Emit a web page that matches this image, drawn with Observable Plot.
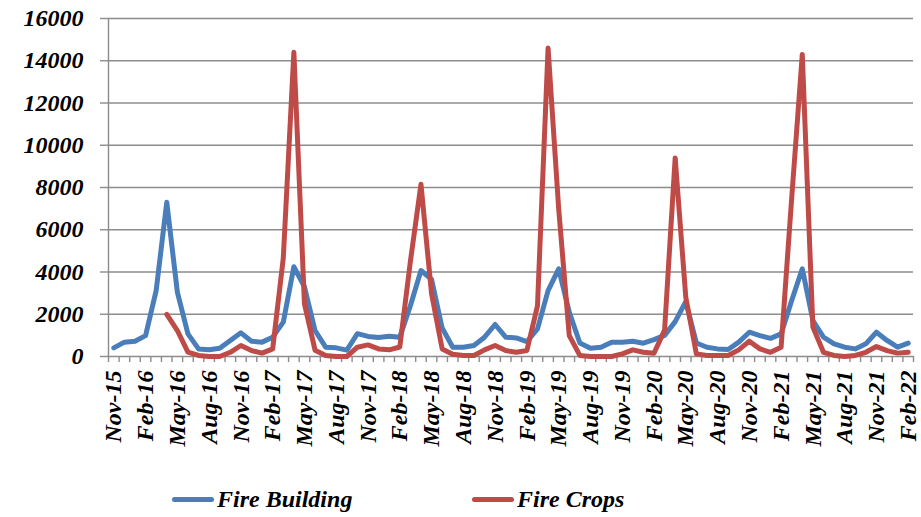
<!DOCTYPE html>
<html><head><meta charset="utf-8">
<script src="https://cdn.jsdelivr.net/npm/d3@7"></script>
<script src="https://cdn.jsdelivr.net/npm/@observablehq/plot@0.6"></script>
</head><body style="margin:0;background:#fff">
<div id="wrap" style="width:921px"></div>
<script>
const months = ["Nov-15","Dec-15",
"Jan-16","Feb-16","Mar-16","Apr-16","May-16","Jun-16","Jul-16","Aug-16","Sep-16","Oct-16","Nov-16","Dec-16",
"Jan-17","Feb-17","Mar-17","Apr-17","May-17","Jun-17","Jul-17","Aug-17","Sep-17","Oct-17","Nov-17","Dec-17",
"Jan-18","Feb-18","Mar-18","Apr-18","May-18","Jun-18","Jul-18","Aug-18","Sep-18","Oct-18","Nov-18","Dec-18",
"Jan-19","Feb-19","Mar-19","Apr-19","May-19","Jun-19","Jul-19","Aug-19","Sep-19","Oct-19","Nov-19","Dec-19",
"Jan-20","Feb-20","Mar-20","Apr-20","May-20","Jun-20","Jul-20","Aug-20","Sep-20","Oct-20","Nov-20","Dec-20",
"Jan-21","Feb-21","Mar-21","Apr-21","May-21","Jun-21","Jul-21","Aug-21","Sep-21","Oct-21","Nov-21","Dec-21",
"Jan-22","Feb-22"];
const tickLabels = ["Nov-15","Feb-16","May-16","Aug-16","Nov-16","Feb-17","May-17","Aug-17","Nov-17","Feb-18","May-18","Aug-18","Nov-18","Feb-19","May-19","Aug-19","Nov-19","Feb-20","May-20","Aug-20","Nov-20","Feb-21","May-21","Aug-21","Nov-21","Feb-22"];
const yTicks = [0,2000,4000,6000,8000,10000,12000,14000,16000];
const fireBuilding = [410,680,725,990,3120,7300,3050,1070,360,315,390,760,1120,725,680,915,1625,4250,3300,1230,440,410,300,1080,950,900,960,915,2400,4070,3650,1350,440,440,520,915,1515,915,880,700,1310,3120,4150,2100,640,390,440,680,680,725,630,800,1000,1650,2600,640,440,360,330,680,1150,990,860,1070,2650,4150,1700,915,600,440,360,600,1150,760,440,630];
const fireCrops = [null,null,null,null,null,1990,1230,205,50,0,0,200,520,280,160,360,4650,14400,2490,300,50,0,0,440,550,360,315,450,4500,8150,2970,360,110,50,50,315,520,280,200,285,2400,14600,7000,990,50,0,0,0,125,315,200,150,1250,9400,2810,125,50,50,50,315,725,360,200,440,7500,14300,1390,200,50,0,50,200,470,280,160,200];
const seriesNames = ["Fire Building","Fire Crops"];
const colors = ["#4a7ebb","#be4b48"];
const FONT = "'Liberation Serif', 'Times New Roman', serif";

const gridColor = "#8c8c8c";
const chart = Plot.plot({
  width: 921,
  height: 460,
  marginLeft: 108,
  marginRight: 8,
  marginTop: 18,
  marginBottom: 104,
  style: {fontSize: "24px", fontWeight: "bold", fontStyle: "italic", color: "#000", background: "#fff"},
  x: {type: "linear", domain: [-0.5, months.length - 0.5]},
  y: {domain: [0, 16000]},
  marks: [
    Plot.gridY(yTicks, {stroke: gridColor, strokeOpacity: 1, strokeWidth: 1.4}),
    Plot.axisY(yTicks, {tickSize: 8, stroke: gridColor, strokeWidth: 1.4, tickPadding: 17, tickFormat: d3.format("d"), label: null}),
    Plot.ruleX([-0.5], {stroke: gridColor, strokeWidth: 1.4}),
    Plot.axisX(d3.range(-0.5, months.length, 1), {tickSize: 6, stroke: gridColor, strokeWidth: 1.4, tickFormat: () => "", label: null}),
    Plot.axisX(tickLabels.map(l => months.indexOf(l)), {tickSize: 0, tickPadding: 14, tickRotate: -90, tickFormat: i => months[i], label: null}),
    Plot.lineY(fireBuilding, {x: (d, i) => i, y: d => d, stroke: colors[0], strokeWidth: 5, strokeLinejoin: "round", strokeLinecap: "round"}),
    Plot.lineY(fireCrops, {x: (d, i) => i, y: d => d, defined: d => d != null, stroke: colors[1], strokeWidth: 5, strokeLinejoin: "round", strokeLinecap: "round"})
  ]
});
const wrap = document.getElementById("wrap");
wrap.appendChild(chart);
const legend = document.createElement("div");
legend.style.cssText = "position:relative;width:921px;height:57px;font-weight:bold;font-style:italic;font-size:24px;color:#000";
const lefts = [172, 472];
seriesNames.forEach((n, k) => {
  const it = document.createElement("div");
  it.style.cssText = "position:absolute;top:26px;display:flex;align-items:center;left:" + lefts[k] + "px";
  const sw = document.createElement("span");
  sw.style.cssText = "display:inline-block;width:42px;height:5px;border-radius:3px;margin-right:3px;background:" + colors[k];
  const tx = document.createElement("span");
  tx.textContent = n;
  it.appendChild(sw); it.appendChild(tx);
  legend.appendChild(it);
});
wrap.appendChild(legend);
[chart, legend, ...chart.querySelectorAll("g, text"), ...legend.querySelectorAll("span, div")].forEach(el => {
  el.style.setProperty("font-family", FONT, "important");
});
</script>
</body></html>
